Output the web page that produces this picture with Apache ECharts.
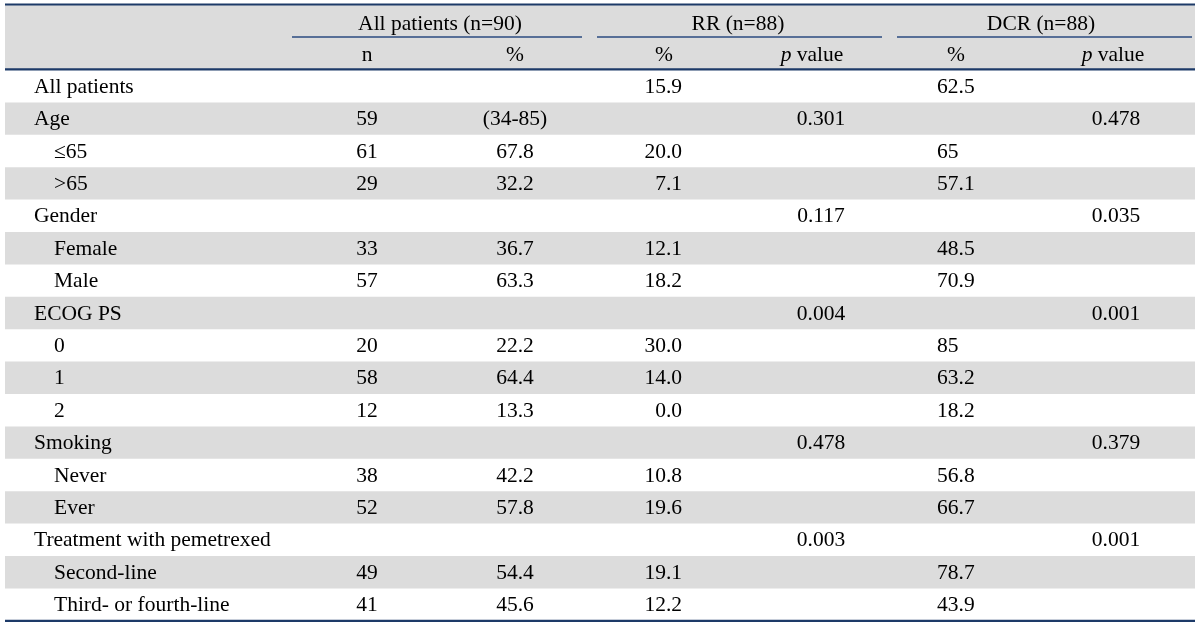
<!DOCTYPE html>
<html>
<head>
<meta charset="utf-8">
<script src="https://cdn.jsdelivr.net/npm/echarts@6/dist/echarts.min.js"></script>
<style>html,body{margin:0;padding:0;background:#fff}#c{width:1200px;height:627px}</style>
</head>
<body>
<div id="c"></div>
<script>
// ---- data ----
const groupHeaders = ['All patients (n=90)', 'RR (n=88)', 'DCR (n=88)'];
const subHeaders = ['n', '%', '%', '{i|p} value', '%', '{i|p} value'];
const rowLabels = ['All patients', 'Age', '\u226465', '>65', 'Gender', 'Female', 'Male', 'ECOG PS', '0', '1', '2', 'Smoking', 'Never', 'Ever', 'Treatment with pemetrexed', 'Second-line', 'Third- or fourth-line'];
const rowIndent = [0, 0, 1, 1, 0, 1, 1, 0, 1, 1, 1, 0, 1, 1, 0, 1, 1];
const nValues = ['', '59', '61', '29', '', '33', '57', '', '20', '58', '12', '', '38', '52', '', '49', '41'];
const pctValues = ['', '(34-85)', '67.8', '32.2', '', '36.7', '63.3', '', '22.2', '64.4', '13.3', '', '42.2', '57.8', '', '54.4', '45.6'];
const rrPct = ['15.9', '', '20.0', '7.1', '', '12.1', '18.2', '', '30.0', '14.0', '0.0', '', '10.8', '19.6', '', '19.1', '12.2'];
const rrP = ['', '0.301', '', '', '0.117', '', '', '0.004', '', '', '', '0.478', '', '', '0.003', '', ''];
const dcrPct = ['62.5', '', '65', '57.1', '', '48.5', '70.9', '', '85', '63.2', '18.2', '', '56.8', '66.7', '', '78.7', '43.9'];
const dcrP = ['', '0.478', '', '', '0.035', '', '', '0.001', '', '', '', '0.379', '', '', '0.001', '', ''];

// ---- layout (table coordinates) ----
const L = {
  left: 5, right: 1195, top: 4.5, headMid: 37, headBot: 69.3, bodyTop: 70, rowH: 32.4,
  grpY: 24, subY: 55, textDy: 1,
  grpCenters: [440, 738, 1041],
  grpLines: [[292, 582], [597, 882], [897, 1192]],
  subCols: [[367, 'center'], [515, 'center'], [664, 'center'], [812, 'center'], [956, 'center'], [1113, 'center']],
  dataCols: [[367, 'center'], [515, 'center'], [682, 'right'], [821, 'center'], [937, 'left'], [1116, 'center']],
  labelX: [34, 54]
};
const FONT = '"Liberation Serif", "Times New Roman", serif';
const FS = 21.5;
const LINE = '#1d3a68';
const GRAY = '#dcdcdc';
const INK = '#000000';

const nRows = rowLabels.length;
const bottomY = L.bodyTop + nRows * L.rowH;

// backgrounds
const bgs = [[L.left, L.top, L.right, L.headBot]];
for (let i = 0; i < nRows; i++) {
  if (i % 2 === 1) bgs.push([L.left, L.bodyTop + i * L.rowH, L.right, L.bodyTop + (i + 1) * L.rowH]);
}
// lines: x1,y1,x2,y2,width,color
const lines = [
  [L.left, L.top, L.right, L.top, 2.2, LINE],
  [L.left, L.headBot, L.right, L.headBot, 2.2, LINE],
  [L.left, bottomY, L.right, bottomY, 2.2, LINE]
];
L.grpLines.forEach(g => lines.push([g[0], L.headMid, g[1], L.headMid, 1.4, '#2b4b80']));

// texts: x, y, text, align
const texts = [];
groupHeaders.forEach((t, k) => texts.push([L.grpCenters[k], L.grpY, t, 'center']));
subHeaders.forEach((t, k) => texts.push([L.subCols[k][0], L.subY, t, L.subCols[k][1]]));
const cols = [nValues, pctValues, rrPct, rrP, dcrPct, dcrP];
for (let i = 0; i < nRows; i++) {
  const yc = L.bodyTop + (i + 0.5) * L.rowH + L.textDy;
  texts.push([L.labelX[rowIndent[i]], yc, rowLabels[i], 'left']);
  cols.forEach((col, k) => {
    if (col[i] !== '') texts.push([L.dataCols[k][0], yc, col[i], L.dataCols[k][1]]);
  });
}

const chart = echarts.init(document.getElementById('c'), null, {renderer: 'canvas'});
chart.setOption({
  animation: false,
  backgroundColor: '#ffffff',
  grid: {left: 0, right: 0, top: 0, bottom: 0},
  xAxis: {type: 'value', min: 0, max: 1200, show: false},
  yAxis: {type: 'value', min: 0, max: 627, inverse: true, show: false},
  series: [
    {
      type: 'custom', silent: true, clip: false,
      data: bgs,
      encode: {x: [0, 2], y: [1, 3]},
      renderItem: function (params, api) {
        const a = api.coord([api.value(0), api.value(1)]);
        const b = api.coord([api.value(2), api.value(3)]);
        return {type: 'rect', shape: {x: a[0], y: a[1], width: b[0] - a[0], height: b[1] - a[1]}, style: {fill: GRAY}};
      }
    },
    {
      type: 'custom', silent: true, clip: false,
      data: lines.map(l => l.slice(0, 4)),
      encode: {x: [0, 2], y: [1, 3]},
      renderItem: function (params, api) {
        const l = lines[params.dataIndex];
        const a = api.coord([l[0], l[1]]);
        const b = api.coord([l[2], l[3]]);
        return {type: 'line', shape: {x1: a[0], y1: a[1], x2: b[0], y2: b[1]}, style: {stroke: l[5], lineWidth: l[4]}};
      }
    },
    {
      type: 'custom', silent: true, clip: false,
      data: texts.map(t => [t[0], t[1]]),
      encode: {x: 0, y: 1},
      renderItem: function (params, api) {
        const t = texts[params.dataIndex];
        const p = api.coord([t[0], t[1]]);
        return {
          type: 'text', x: p[0], y: p[1],
          style: {
            text: t[2], fill: INK, fontFamily: FONT, fontSize: FS,
            align: t[3], verticalAlign: 'middle',
            rich: {i: {fontStyle: 'italic', fontFamily: FONT, fontSize: FS, fill: INK}}
          }
        };
      }
    }
  ]
});
</script>
</body>
</html>
